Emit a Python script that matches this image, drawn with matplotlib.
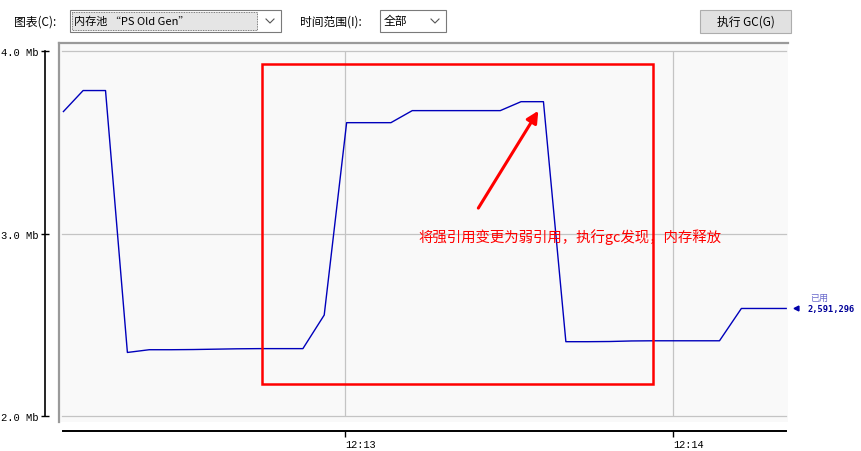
import matplotlib
matplotlib.use("Agg")
import matplotlib.pyplot as plt
from matplotlib.patches import Rectangle, FancyArrowPatch
from matplotlib.ticker import FixedLocator, FixedFormatter

plt.rcParams['font.family'] = ['Noto Sans CJK SC', 'DejaVu Sans']

# ---- data (seconds since 12:12:00, heap used in Mb) ----
times = [8.5, 12.1, 16.2, 20.2, 24.2, 28.2, 32.2, 36.2, 40.2, 44.2, 48.2, 52.3,
         56.2, 60.3, 64.3, 68.4, 72.3, 76.3, 80.3, 84.3, 88.4, 92.2, 96.3, 100.4,
         104.4, 108.4, 112.4, 116.4, 120.4, 124.4, 128.5, 132.5, 136.5, 140.7]
used_mb = [3.670, 3.785, 3.785, 2.350, 2.365, 2.365, 2.366, 2.368, 2.370, 2.371, 2.371, 2.371,
           2.555, 3.609, 3.609, 3.609, 3.675, 3.675, 3.675, 3.675, 3.675, 3.724, 3.724, 2.409,
           2.409, 2.410, 2.413, 2.414, 2.414, 2.414, 2.414, 2.591, 2.591, 2.591]
y_ticks = [2.0, 3.0, 4.0]
y_labels = ["2.0 Mb", "3.0 Mb", "4.0 Mb"]
x_ticks = [60, 120]
x_labels = ["12:13", "12:14"]
current_value = "2,591,296"
current_label = "已用"
note_text = "将强引用变更为弱引用，执行gc发现，内存释放"

W, H = 861, 452
fig = plt.figure(figsize=(W / 100, H / 100), dpi=100)
fig.patch.set_facecolor("white")

X0, X1 = 7.69, 141.03
Y0, Y1 = 1.969, 4.0455
left, right_px, top_px, bot_px = 59, 788, 44, 423
rect = [left / W, (H - bot_px) / H, (right_px - left) / W, (bot_px - top_px) / H]

ax = fig.add_axes(rect)
ax.set_facecolor("#f9f9f9")
ax.set_xlim(X0, X1)
ax.set_ylim(Y0, Y1)
ax.set_xticks([])
ax.set_yticks([])
for s in ["right", "bottom"]:
    ax.spines[s].set_visible(False)
for s in ["left", "top"]:
    ax.spines[s].set_color("#9a9a9a")
    ax.spines[s].set_linewidth(1.6)

# grid
for yv in y_ticks:
    ax.axhline(yv, xmin=0.004, xmax=0.997, color="#c4c4c4", lw=0.9, zorder=1)
ax.vlines(x_ticks, 2.0, 4.0, color="#c4c4c4", lw=0.9, zorder=1)

# data line
ax.plot(times, used_mb, color="#0000bb", lw=1.0, zorder=3, clip_on=True)

# red annotation box and arrow
ax.add_patch(Rectangle((44.87, 2.177), 116.34 - 44.87, 3.930 - 2.177,
                       fill=False, edgecolor="#ff0000", lw=1.8, zorder=4))
ax.add_patch(FancyArrowPatch((84.39, 3.141), (95.36, 3.674),
                             arrowstyle="-|>,head_length=7,head_width=3.5",
                             color="#ff0000", lw=2.2, zorder=5, shrinkA=0, shrinkB=0))
ax.text(101.16, 2.99, note_text, color="#ff0000", fontsize=10.4,
        ha="center", va="center", zorder=6)

# current value marker
ax.plot([1.0105], [2.591], marker="<", color="#0000aa", ms=3.5,
        transform=ax.get_yaxis_transform(), clip_on=False)
ax.annotate(current_label, xy=(1.0, 2.591), xycoords=("axes fraction", "data"),
            xytext=(22, 11), textcoords="offset pixels", fontsize=6.5,
            color="#6a6acc", ha="left", va="center", annotation_clip=False)
ax.annotate(current_value, xy=(1.0, 2.591), xycoords=("axes fraction", "data"),
            xytext=(20, 0), textcoords="offset pixels", fontsize=6.2,
            family="DejaVu Sans Mono", weight="bold",
            color="#000099", ha="left", va="center", annotation_clip=False)

# separate y axis
ay = fig.add_axes([45 / W, rect[1], 0.0001, rect[3]])
ay.set_ylim(Y0, Y1)
ay.patch.set_visible(False)
for s in ["right", "top", "bottom"]:
    ay.spines[s].set_visible(False)
ay.spines["left"].set_bounds(2.0, 4.0)
ay.spines["left"].set_linewidth(1.2)
ay.set_xticks([])
ay.yaxis.set_major_locator(FixedLocator(y_ticks))
ay.yaxis.set_major_formatter(FixedFormatter(y_labels))
ay.tick_params(axis="y", direction="inout", length=6, width=1.0, pad=2,
               labelsize=7.6)
for lab in ay.get_yticklabels():
    lab.set_family("Liberation Mono")

# separate x axis
axx = fig.add_axes([rect[0], (H - 432) / H, rect[2], 0.0001])
axx.set_xlim(X0, X1)
axx.patch.set_visible(False)
for s in ["left", "right", "top"]:
    axx.spines[s].set_visible(False)
axx.spines["bottom"].set_bounds(8.41, 140.67)
axx.spines["bottom"].set_linewidth(1.4)
axx.set_yticks([])
axx.xaxis.set_major_locator(FixedLocator(x_ticks))
axx.xaxis.set_major_formatter(FixedFormatter(x_labels))
axx.tick_params(axis="x", direction="out", length=4, width=1.0, pad=2,
                labelsize=7.4)
for lab in axx.get_xticklabels():
    lab.set_family("Liberation Mono")
    lab.set_horizontalalignment("left")

# ---- top toolbar (pixel overlay) ----
ui = fig.add_axes([0, 0, 1, 1])
ui.set_xlim(0, W)
ui.set_ylim(H, 0)
ui.axis("off")
ui.patch.set_visible(False)

ui.text(14, 22, "图表(C):", fontsize=8.5, va="center", ha="left", color="#000000")
ui.add_patch(Rectangle((70, 11), 211, 22, facecolor="#ffffff", edgecolor="#7a7a7a", lw=0.8))
ui.add_patch(Rectangle((72, 13), 185, 18, facecolor="#e5e5e5", edgecolor="#555555",
                       lw=0.6, ls=(0, (1, 1))))
ui.text(74, 22, "内存池 \u201cPS Old Gen\u201d", fontsize=8, va="center", ha="left")
ui.plot([266, 270, 274], [20, 24, 20], color="#555555", lw=0.8)

ui.text(300, 22, "时间范围(I):", fontsize=8.5, va="center", ha="left")
ui.add_patch(Rectangle((380, 11), 66, 22, facecolor="#ffffff", edgecolor="#7a7a7a", lw=0.8))
ui.text(384, 22, "全部", fontsize=8.5, va="center", ha="left")
ui.plot([431, 435, 439], [20, 24, 20], color="#555555", lw=0.8)

ui.add_patch(Rectangle((700, 11), 91, 23, facecolor="#e1e1e1", edgecolor="#adadad", lw=0.8))
ui.text(745.5, 22.5, "执行 GC(G)", fontsize=8.5, va="center", ha="center")

fig.savefig("out.png", dpi=100)
